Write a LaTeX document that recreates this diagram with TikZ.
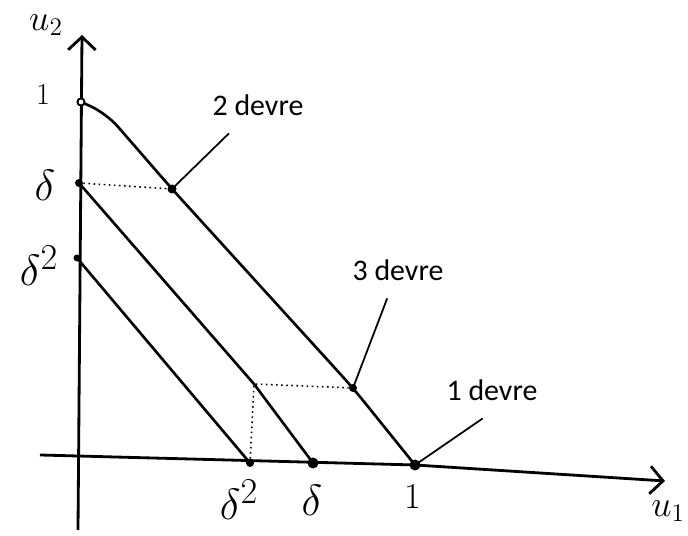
\documentclass[tikz,border=0pt]{standalone}
\usepackage{fontspec}
\usetikzlibrary{arrows.meta,positioning,calc}
\newfontfamily\carlito{Carlito}
\tikzset{
  ejearr/.style={-{Straight Barb[length=2.6mm, width=5.5mm]}, line width=1.6pt},
  curva/.style={line width=1.5pt, line join=round},
  guia/.style={dotted, line width=0.9pt},
  punto/.style={circle, fill=black, minimum size=#1, inner sep=0pt},
  punto/.default=0.16cm,
  puntoabierto/.style={circle, draw=black, line width=1pt, fill=white, minimum size=0.14cm, inner sep=0pt},
  devrebox/.style={font=\carlito\fontsize{17}{20}\selectfont, inner xsep=2pt, inner ysep=10pt},
  devrearr/.style={line width=1pt},
  marca/.style={font=\Huge, inner sep=1pt},
}
\begin{document}
\begin{tikzpicture}
  \useasboundingbox (0,0) rectangle (13.76,10.72);
  % ---- ejes ----
  \coordinate (ybase) at (1.56,0.12);
  \coordinate (ytope) at (1.64,10.02);
  \coordinate (xbase) at (0.8,1.62);
  \coordinate (xtope) at (13.3,1.1);
  \draw[ejearr] (ybase) -- (ytope);
  \node[marca, font=\huge] (u2) at (0.92,10.22) {$u_2$};
  % ---- puntos en los ejes ----
  \node[punto=0.14cm] (d2y) at (1.54,5.56) {};
  \node[punto=0.16cm] (dy) at (1.58,7.06) {};
  \node[punto=0.16cm] (d2x) at (5.0,1.46) {};
  \node[punto=0.22cm] (dx) at (6.26,1.46) {};
  \node[punto=0.22cm] (unox) at (8.3,1.42) {};
  \node[punto=0.18cm] (m2) at (3.44,6.94) {};
  \node[punto=0.16cm] (m3) at (7.06,2.96) {};
  \coordinate (esq) at (5.08,3.04);
  \draw[ejearr] (xbase) -- (unox.center) -- (xtope);
  \node[marca, font=\huge, anchor=east] (u1) at (13.74,0.5) {$u_1$};
  % ---- rectas de reparto ----
  \node[puntoabierto] (unoy) at (1.62,8.68) {};
  \draw[curva, rounded corners=10pt] (unoy.center) -- (2.12,8.46) -- (m2.center) -- (m3.center) -- (unox.center);
  \draw[curva] (dy.center) -- (esq) -- (dx.center);
  \draw[curva] (d2y.center) -- (d2x.center);
  \node[puntoabierto] at (unoy) {};
  % ---- guias punteadas ----
  \draw[guia] (dy) -- (m2);
  \draw[guia] (d2x) -- (esq) -- (m3);
  % ---- marcas de los ejes ----
  \node[marca, font=\LARGE] (t1y) at (0.86,8.84) {1};
  \node[marca] (tdy) at (0.9,7.02) {$\delta$};
  \node[marca] (td2y) at (0.78,5.4) {$\delta^2$};
  \node[marca] (td2x) at (4.78,0.72) {$\delta^2$};
  \node[marca] (tdx) at (6.24,0.72) {$\delta$};
  \node[marca, font=\huge] (t1x) at (8.26,0.8) {1};
  % ---- etiquetas de periodos ----
  \node[devrebox] (dv2) at (5.16,8.62) {2 devre};
  \node[devrebox] (dv3) at (7.96,5.32) {3 devre};
  \node[devrebox] (dv1) at (9.84,2.92) {1 devre};
  \draw[devrearr] (dv2) -- (m2.center);
  \draw[devrearr] (dv3) -- (m3.center);
  \draw[devrearr] (dv1.252) -- (unox.center);
\end{tikzpicture}
\end{document}
